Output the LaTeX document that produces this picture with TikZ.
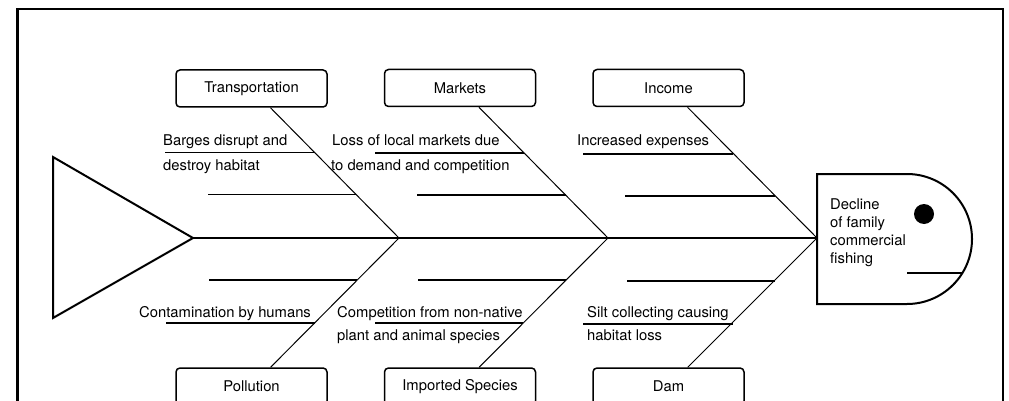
\documentclass[tikz,border=0pt]{standalone}
\usepackage{fontspec}
\setmainfont{TeX Gyre Heros}

\begin{document}
\begin{tikzpicture}[x = 1pt, y = -1pt,
		every node/.style = {font = \fontsize{14.8}{18}\selectfont},
		cause/.style = {draw, line width = 1.5pt, rounded corners = 4pt, minimum width = 151pt, minimum height = 37pt, inner sep = 0pt},
		bone/.style = {line width = 1pt},
		rib/.style = {line width = 1.1pt},
		note/.style = {anchor = base west, inner sep = 0pt}]
		\useasboundingbox (0, 0) rectangle (1009, 401);
		\clip (0, 0) rectangle (1009, 401);
		\draw[line width = 2.2pt] (17.5, 410) -- (17.5, 9) -- (1003, 9) -- (1003, 410);
		%%%%%%%%% tail, spine and head
		\coordinate (tail) at (193, 238);
		\coordinate (head) at (817, 238);
		\coordinate (j1) at (399, 238);
		\coordinate (j2) at (608, 238);
		\draw[line width = 2pt, line join = miter] (53, 157) -- (tail) -- (53, 318) -- cycle;
		\draw[line width = 2.4pt] (tail) -- (head);
		\draw[line width = 2pt] (907, 174) -- (817, 174) -- (817, 304) -- (907, 304) arc (90:-90:65);
		\fill (924, 214) circle (10);
		\draw[rib] (907, 273) -- (962.4, 273);
		\node[anchor = north west, inner sep = 0pt, align = left] (effect) at (830, 199) {Decline\\of family\\commercial\\fishing};
		%%%%%%%%% causes on top
		\node[cause] (transport) at (251.5, 88.5) {Transportation};
		\node[cause] (markets) at (460, 88) {Markets};
		\node[cause] (income) at (668.5, 88) {Income};
		\draw[bone] (j1) -- (transport);
		\draw[bone] (j2) -- (markets);
		\draw[bone] (head) -- (income);
		\draw[rib] (165, 152.5) -- (314.8, 152.5);
		\draw[rib] (208, 194.5) -- (356.2, 194.5);
		\draw[rib] (375, 153) -- (524.3, 153);
		\draw[rib] (417, 195) -- (565.6, 195);
		\draw[rib] (583, 154) -- (733, 154);
		\draw[rib] (625, 196) -- (775, 196);
		\node[note] (barges) at (163, 146) {Barges disrupt and};
		\node[note] (barges2) at (163, 170) {destroy habitat};
		\node[note] (loss) at (332, 146) {Loss of local markets due};
		\node[note] (loss2) at (331, 170) {to demand and competition};
		\node[note] (expenses) at (577, 146) {Increased expenses};
		%%%%%%%%% causes below
		\node[cause] (pollution) at (251.5, 386.5) {Pollution};
		\node[cause] (species) at (460, 386.5) {Imported Species};
		\node[cause] (dam) at (668.5, 386.5) {Dam};
		\draw[bone] (j1) -- (pollution);
		\draw[bone] (j2) -- (species);
		\draw[bone] (head) -- (dam);
		\draw[rib] (209, 280) -- (357.3, 280);
		\draw[rib] (166, 323) -- (314.7, 323);
		\draw[rib] (418, 280) -- (566, 280);
		\draw[rib] (375, 323) -- (523, 323);
		\draw[rib] (627, 281) -- (775, 281);
		\draw[rib] (583, 324) -- (733, 324);
		\node[note] (humans) at (139, 317) {Contamination by humans};
		\node[note] (nonnative) at (337, 317) {Competition from non-native};
		\node[note] (nonnative2) at (337, 340) {plant and animal species};
		\node[note] (silt) at (587, 317) {Silt collecting causing};
		\node[note] (silt2) at (587, 340) {habitat loss};
	\end{tikzpicture}
\end{document}
